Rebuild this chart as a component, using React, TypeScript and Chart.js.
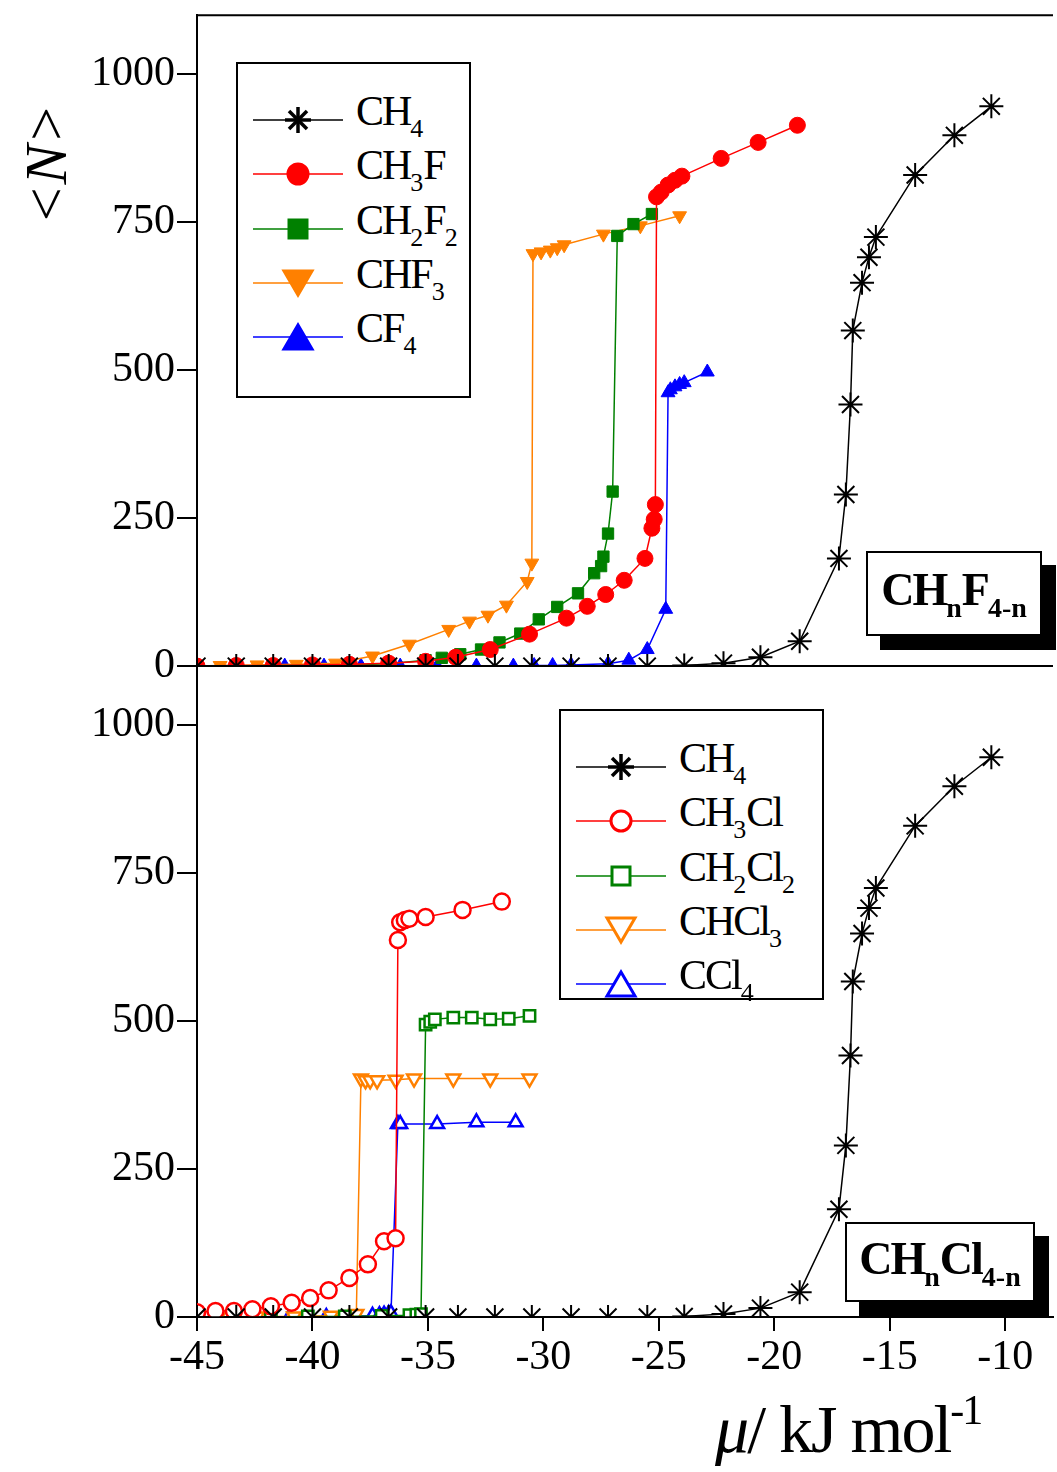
import { useEffect, useRef } from "react";
import { Chart, registerables } from "chart.js";

Chart.register(...registerables);

// ---- top panel (fluorides) ----
const ch4X = [-45, -43.3, -41.7, -40, -38.4, -36.7, -35.1, -33.7, -32.1, -30.5, -28.8, -27.2, -25.5, -23.9, -22.2, -20.6, -18.9, -17.2, -16.9, -16.7, -16.6, -16.2, -15.9, -15.6, -13.9, -12.2, -10.6];
const ch4Y = [0, 0, 0, 0, 0, 0, 0, 0, 0, 0, 0, 0, 0, 1, 5, 15, 42, 182, 290, 442, 567, 648, 691, 725, 830, 897, 946];

const ch3fX = [-45, -43.3, -41.7, -40, -38.4, -36.7, -35.1, -33.8, -32.3, -30.6, -29.0, -28.1, -27.3, -26.5, -25.6, -25.3, -25.2, -25.15, -25.1, -24.9, -24.6, -24.3, -24.0, -22.3, -20.7, -19.0];
const ch3fY = [0, 1, 1, 2, 3, 5, 8, 15, 28, 54, 81, 101, 121, 145, 182, 233, 248, 273, 793, 801, 813, 821, 828, 858, 885, 914];

const ch2f2X = [-45, -43.3, -41.7, -40, -38.4, -36.7, -35.1, -34.4, -33.6, -32.7, -31.9, -31.0, -30.2, -29.4, -28.5, -27.8, -27.5, -27.4, -27.2, -27.0, -26.8, -26.1, -25.3];
const ch2f2Y = [0, 0, 1, 1, 2, 4, 10, 14, 20, 28, 40, 55, 79, 100, 123, 157, 169, 185, 224, 295, 727, 747, 764];

const chf3X = [-45, -44, -42.4, -40.7, -39, -37.4, -35.8, -34.1, -33.2, -32.4, -31.6, -30.7, -30.5, -30.45, -30.1, -29.7, -29.4, -29.1, -27.4, -25.8, -24.1];
const chf3Y = [0, 1, 2, 3, 5, 17, 37, 62, 76, 86, 103, 143, 174, 697, 700, 703, 707, 712, 730, 744, 761];

const cf4X = [-45, -41.2, -39.5, -37.9, -36.2, -34.6, -32.9, -31.3, -30.4, -29.6, -28.8, -27.2, -26.3, -25.5, -24.7, -24.6, -24.5, -24.3, -24.1, -23.9, -22.9];
const cf4Y = [0, 0, 0, 0, 0, 0, 0, 0, 1, 1, 2, 4, 10, 28, 96, 462, 467, 472, 476, 479, 497];

// ---- bottom panel (chlorides) ----
const ch3clX = [-45, -44.2, -43.4, -42.6, -41.8, -40.9, -40.1, -39.3, -38.4, -37.6, -36.9, -36.4, -36.3, -36.2, -36.0, -35.8, -35.1, -33.5, -31.8];
const ch3clY = [8, 10, 10, 13, 18, 24, 32, 45, 66, 89, 128, 133, 637, 667, 671, 673, 676, 688, 702];

const ch2cl2X = [-45, -43.4, -41.8, -40.2, -38.6, -37, -35.8, -35.5, -35.3, -35.1, -34.9, -34.7, -33.9, -33.1, -32.3, -31.5, -30.6];
const ch2cl2Y = [0, 0, 0, 1, 1, 2, 3, 4, 5, 494, 499, 503, 506, 506, 503, 504, 509];

const chcl3X = [-45, -44.1, -42.4, -40.8, -39.2, -38.4, -38.1, -37.9, -37.7, -37.5, -37.2, -36.4, -35.6, -33.9, -32.3, -30.6];
const chcl3Y = [0, 0, 1, 1, 2, 3, 5, 403, 400, 400, 400, 401, 403, 403, 403, 403];

const ccl4X = [-45, -44.2, -42.6, -41, -39.4, -37.4, -37.1, -36.9, -36.7, -36.6, -36.3, -36.2, -34.6, -32.9, -31.2];
const ccl4Y = [0, 0, 0, 0, 0, 2, 3, 4, 5, 6, 326, 326, 326, 329, 329];

const yTicks = [0, 250, 500, 750, 1000];
const xTicks = [-45, -40, -35, -30, -25, -20, -15, -10];

const pts = (xs: number[], ys: number[]) => xs.map((x, i) => ({ x, y: ys[i] }));

const serif = "'Liberation Serif', 'DejaVu Serif', serif";

function series(label: string, xs: number[], ys: number[], color: string, style: string, filled: boolean, axis: string, rot = 0) {
  const star = style === "star";
  return {
    label,
    data: pts(xs, ys),
    yAxisID: axis,
    borderColor: color,
    backgroundColor: filled ? color : "#ffffff",
    pointStyle: style,
    pointRotation: rot,
    pointRadius: star ? 12 : 8,
    pointBorderWidth: star ? 2 : filled ? 1 : 2.5,
    pointBorderColor: color,
    borderWidth: 1.5,
    tension: 0,
  };
}

const framePlugin = {
  id: "frame",
  afterDraw(chart: any) {
    const { ctx, chartArea } = chart;
    const mid = chart.scales.yTop.bottom;
    ctx.save();
    ctx.strokeStyle = "#000";
    ctx.lineWidth = 2;
    ctx.beginPath();
    ctx.moveTo(chartArea.left, chartArea.top);
    ctx.lineTo(chartArea.right, chartArea.top);
    ctx.moveTo(chartArea.left, mid);
    ctx.lineTo(chartArea.right, mid);
    ctx.stroke();
    ctx.restore();
  },
};

type LegendItem = { label: any; color: string; marker: string };

function Marker({ color, marker }: { color: string; marker: string }) {
  const c = 45;
  const f = marker.endsWith("-f");
  let m: any = null;
  if (marker === "star") {
    m = (
      <g stroke={color} strokeWidth={3.5}>
        <line x1={c - 13} y1={16} x2={c + 13} y2={16} />
        <line x1={c} y1={3} x2={c} y2={29} />
        <line x1={c - 9} y1={7} x2={c + 9} y2={25} />
        <line x1={c - 9} y1={25} x2={c + 9} y2={7} />
      </g>
    );
  } else if (marker.startsWith("circle")) {
    m = <circle cx={c} cy={16} r={10} fill={f ? color : "#fff"} stroke={color} strokeWidth={3} />;
  } else if (marker.startsWith("rect")) {
    m = <rect x={c - 9} y={7} width={18} height={18} fill={f ? color : "#fff"} stroke={color} strokeWidth={3} />;
  } else if (marker.startsWith("down")) {
    m = <polygon points={`${c - 14},4 ${c + 14},4 ${c},28`} fill={f ? color : "#fff"} stroke={color} strokeWidth={3} />;
  } else {
    m = <polygon points={`${c - 14},28 ${c + 14},28 ${c},4`} fill={f ? color : "#fff"} stroke={color} strokeWidth={3} />;
  }
  return (
    <svg width={90} height={32} style={{ display: "block" }}>
      <line x1={0} y1={16} x2={90} y2={16} stroke={color} strokeWidth={1.5} />
      {m}
    </svg>
  );
}

function Legend({ items, left, top, width, height }: { items: LegendItem[]; left: number; top: number; width: number; height: number }) {
  return (
    <div style={{ position: "absolute", left, top, width, height, border: "2px solid #000", background: "#fff", boxSizing: "border-box", padding: "29px 0 0 15px" }}>
      {items.map((it, i) => (
        <div key={i} style={{ display: "flex", alignItems: "center", height: 54.3 }}>
          <Marker color={it.color} marker={it.marker} />
          <span style={{ marginLeft: 13, fontFamily: serif, fontSize: 42, lineHeight: "42px", letterSpacing: -2 }}>{it.label}</span>
        </div>
      ))}
    </div>
  );
}

const sub = (s: string, size = 26) => <sub style={{ fontSize: size, verticalAlign: "-12px", letterSpacing: 0 }}>{s}</sub>;

function TagBox({ left, top, width, height, children }: any) {
  return (
    <div style={{ position: "absolute", left, top, width, height, border: "2px solid #000", background: "#fff", boxSizing: "border-box", boxShadow: "14px 14px 0 #000", fontFamily: serif, fontWeight: "bold", fontSize: 46, display: "flex", alignItems: "center", justifyContent: "center", letterSpacing: -2 }}>
      <span>{children}</span>
    </div>
  );
}

export default function App() {
  const ref = useRef<HTMLCanvasElement | null>(null);

  useEffect(() => {
    if (!ref.current) return;
    const yAxis = (weight: number) => ({
      type: "linear" as const,
      position: "left" as const,
      stack: "panels",
      stackWeight: weight,
      min: 0,
      max: 1100,
      offset: false,
      afterBuildTicks: (s: any) => { s.ticks = yTicks.map((v) => ({ value: v })); },
      afterFit: (s: any) => { s.width = 197; },
      border: { color: "#000", width: 2 },
      grid: { drawOnChartArea: false, color: "#000", lineWidth: 2, tickLength: 20 },
      ticks: { color: "#000", font: { family: serif, size: 42 }, padding: 2, callback: (v: any) => String(v) },
    });
    const chart = new Chart(ref.current, {
      type: "line",
      data: {
        datasets: [
          series("CH4", ch4X, ch4Y, "#000000", "star", true, "yTop"),
          series("CH3F", ch3fX, ch3fY, "#ff0000", "circle", true, "yTop"),
          series("CH2F2", ch2f2X, ch2f2Y, "#008000", "rect", true, "yTop"),
          series("CHF3", chf3X, chf3Y, "#ff8000", "triangle", true, "yTop", 180),
          series("CF4", cf4X, cf4Y, "#0000ff", "triangle", true, "yTop"),
          series("CH4b", ch4X, ch4Y, "#000000", "star", true, "yBot"),
          series("CH3Cl", ch3clX, ch3clY, "#ff0000", "circle", false, "yBot"),
          series("CH2Cl2", ch2cl2X, ch2cl2Y, "#008000", "rect", false, "yBot"),
          series("CHCl3", chcl3X, chcl3Y, "#ff8000", "triangle", false, "yBot", 180),
          series("CCl4", ccl4X, ccl4Y, "#0000ff", "triangle", false, "yBot"),
        ] as any,
      },
      options: {
        animation: false,
        responsive: false,
        devicePixelRatio: 1,
        layout: { padding: { top: 13, right: 2, left: 0, bottom: 0 } },
        plugins: { legend: { display: false }, tooltip: { enabled: false } },
        scales: {
          x: {
            type: "linear",
            min: -45,
            max: -7.93,
            afterBuildTicks: (s: any) => { s.ticks = xTicks.map((v) => ({ value: v })); },
            afterFit: (s: any) => { s.height = 155; },
            border: { color: "#000", width: 2 },
            grid: { drawOnChartArea: false, color: "#000", lineWidth: 2, tickLength: 14 },
            ticks: { color: "#000", font: { family: serif, size: 42 }, maxRotation: 0, padding: 2 },
          },
          yBot: yAxis(1),
          yTop: yAxis(1),
        },
      },
      plugins: [framePlugin],
    });
    return () => chart.destroy();
  }, []);

  const topItems: LegendItem[] = [
    { label: <>CH{sub("4")}</>, color: "#000", marker: "star" },
    { label: <>CH{sub("3")}F</>, color: "#ff0000", marker: "circle-f" },
    { label: <>CH{sub("2")}F{sub("2")}</>, color: "#008000", marker: "rect-f" },
    { label: <>CHF{sub("3")}</>, color: "#ff8000", marker: "down-f" },
    { label: <>CF{sub("4")}</>, color: "#0000ff", marker: "up-f" },
  ];
  const botItems: LegendItem[] = [
    { label: <>CH{sub("4")}</>, color: "#000", marker: "star" },
    { label: <>CH{sub("3")}Cl</>, color: "#ff0000", marker: "circle" },
    { label: <>CH{sub("2")}Cl{sub("2")}</>, color: "#008000", marker: "rect" },
    { label: <>CHCl{sub("3")}</>, color: "#ff8000", marker: "down" },
    { label: <>CCl{sub("4")}</>, color: "#0000ff", marker: "up" },
  ];

  return (
    <div style={{ position: "absolute", left: 0, top: 0, width: 1057, height: 1472, background: "#fff", overflow: "hidden" }}>
      <canvas ref={ref} width={1067} height={1484} style={{ position: "absolute", left: 0, top: -12 }} />
      <Legend items={topItems} left={236} top={62} width={235} height={336} />
      <Legend items={botItems} left={559} top={709} width={265} height={291} />
      <TagBox left={866} top={551} width={176} height={85}>CH{sub("n", 28)}F{sub("4-n", 28)}</TagBox>
      <TagBox left={845} top={1222} width={190} height={80}>CH{sub("n", 28)}Cl{sub("4-n", 28)}</TagBox>
      <div style={{ position: "absolute", left: -14, top: 130, transform: "rotate(-90deg)", fontFamily: serif, fontSize: 60, fontStyle: "italic", whiteSpace: "nowrap" }}>
        &lt;N&gt;
      </div>
      <div style={{ position: "absolute", left: 715, top: 1386, fontFamily: serif, fontSize: 68, letterSpacing: -2, whiteSpace: "nowrap" }}>
        <i>μ</i>/ kJ mol<sup style={{ fontSize: 42, verticalAlign: "28px" }}>-1</sup>
      </div>
    </div>
  );
}
